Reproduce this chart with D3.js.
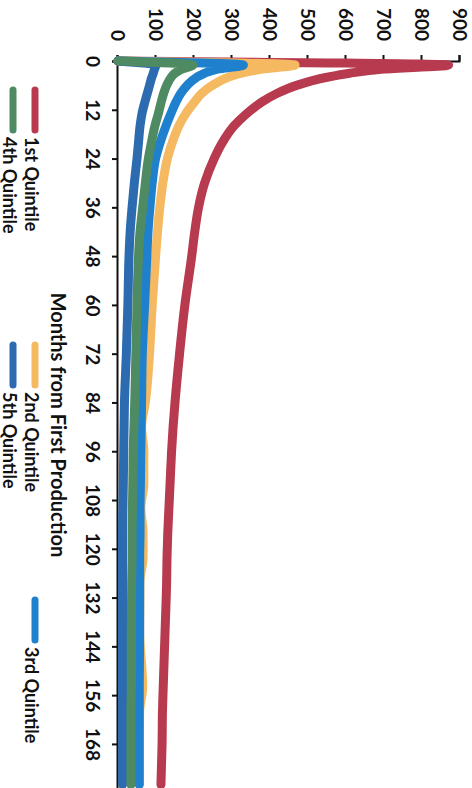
<!DOCTYPE html>
<html>
<head>
<meta charset="utf-8">
<script src="https://cdn.jsdelivr.net/npm/d3@7"></script>
<style>
  html, body { margin: 0; padding: 0; background: #fff; }
  svg { display: block; }
</style>
</head>
<body>
<div id="chart"></div>
<script>
const months = [0, 1, 2, 3, 4, 6, 8, 10, 13, 16, 20, 24, 30, 36, 42, 48, 60, 72, 84, 90, 96, 104, 110, 116, 122, 128, 140, 154, 160, 168, 178];
const quintile1 = [0, 870, 700, 610, 550, 470, 418, 380, 338, 305, 275, 253, 228, 212, 202, 194, 176, 162, 150, 145, 141, 137, 134, 131, 129, 128, 124, 119, 117, 116, 113];
const quintile2 = [0, 466, 380, 325, 290, 248, 220, 202, 178, 160, 143, 130, 118, 110, 104, 99, 90, 83, 72, 62, 68, 68, 60, 66, 66, 58, 57, 65, 57, 56, 56];
const quintile3 = [0, 330, 262, 228, 207, 182, 165, 153, 139, 126, 111, 99, 90, 84, 79, 76, 70, 64, 62, 61, 60, 59, 58, 58, 57, 57, 57, 56, 56, 56, 56];
const quintile4 = [0, 197, 168, 150, 140, 128, 120, 114, 106, 97, 88, 80, 72, 65, 58, 54, 50, 47, 44, 42, 40, 39, 38, 37, 37, 36, 35, 35, 34, 34, 34];
const quintile5 = [0, 100, 96, 93, 89, 83, 77, 71, 63, 58, 54, 50, 43, 37, 32, 29, 26, 22, 17, 16, 15, 14, 13, 12, 12, 12, 12, 12, 12, 12, 12];
const seriesNames = ['1st Quintile', '2nd Quintile', '3rd Quintile', '4th Quintile', '5th Quintile'];
const monthTicks = [0, 12, 24, 36, 48, 60, 72, 84, 96, 108, 120, 132, 144, 156, 168];
const valueTicks = [0, 100, 200, 300, 400, 500, 600, 700, 800, 900];

const colors = {
  '1st Quintile': '#b73a4e',
  '2nd Quintile': '#f5b962',
  '3rd Quintile': '#1f80cd',
  '4th Quintile': '#4f8b62',
  '5th Quintile': '#2c6bb0',
};

const values = [quintile1, quintile2, quintile3, quintile4, quintile5];
const series = seriesNames.map((name, i) => ({
  name,
  points: months.map((m, j) => ({ month: m, value: values[i][j] })),
}));

// Page is 472 x 788; the chart is drawn in a 788 x 472 frame and turned 90deg clockwise
const pageW = 472, pageH = 788;
const font = 'Lato, "Open Sans", sans-serif';

const svg = d3.select('#chart')
  .append('svg')
  .attr('width', pageW)
  .attr('height', pageH);

svg.append('rect')
  .attr('width', pageW)
  .attr('height', pageH)
  .attr('fill', '#fff');

const g = svg.append('g')
  .attr('transform', `translate(${pageW},0) rotate(90)`);

// Scales
const x = d3.scaleLinear().domain([0, 180]).range([61, 61 + 180 * 4.065]);
const y = d3.scaleLinear().domain([0, 900]).range([354, 12]);

// X axis (months)
const xAxis = g.append('g')
  .attr('transform', `translate(0,${y(0)})`)
  .call(d3.axisBottom(x).tickValues(monthTicks).tickSize(6).tickPadding(13));

// Y axis (values)
const yAxis = g.append('g')
  .attr('transform', `translate(${x(0)},0)`)
  .call(d3.axisLeft(y).tickValues(valueTicks).tickSize(6).tickPadding(14));

[xAxis, yAxis].forEach((ax) => {
  ax.select('.domain').attr('stroke', '#111').attr('stroke-width', 2);
  ax.selectAll('.tick line').attr('stroke', '#111').attr('stroke-width', 2);
  ax.selectAll('.tick text')
    .style('font-family', font)
    .style('font-weight', 'bold')
    .style('font-size', '19px')
    .attr('fill', '#111');
});

// Lines
const line = d3.line()
  .x((d) => x(d.month))
  .y((d) => y(d.value))
  .curve(d3.curveMonotoneX);

const drawOrder = ['1st Quintile', '2nd Quintile', '3rd Quintile', '5th Quintile', '4th Quintile'];
g.append('g')
  .selectAll('path')
  .data(drawOrder.map((n) => series.find((s) => s.name === n)))
  .enter()
  .append('path')
  .attr('d', (d) => line(d.points))
  .attr('fill', 'none')
  .attr('stroke', (d) => colors[d.name])
  .attr('stroke-width', 9)
  .attr('stroke-linejoin', 'round')
  .attr('stroke-linecap', 'round');

// Axis title
g.append('text')
  .attr('x', 425)
  .attr('y', 421)
  .attr('text-anchor', 'middle')
  .style('font-family', font)
  .style('font-weight', 'bold')
  .style('font-size', '20px')
  .attr('fill', '#111')
  .text('Months from First Production');

// Legend: two rows, three columns
const legendPos = {
  '1st Quintile': [87, 437],
  '2nd Quintile': [342, 437],
  '3rd Quintile': [597, 437],
  '4th Quintile': [87, 459],
  '5th Quintile': [342, 459],
};

const legend = g.append('g')
  .selectAll('g')
  .data(seriesNames)
  .enter()
  .append('g')
  .attr('transform', (d) => `translate(${legendPos[d][0]},${legendPos[d][1]})`);

legend.append('line')
  .attr('x1', 3)
  .attr('x2', 43)
  .attr('stroke', (d) => colors[d])
  .attr('stroke-width', 7)
  .attr('stroke-linecap', 'round');

legend.append('text')
  .attr('x', 50)
  .attr('y', 10)
  .style('font-family', font)
  .style('font-weight', 'bold')
  .style('font-size', '18px')
  .attr('fill', '#111')
  .text((d) => d);
</script>
</body>
</html>
